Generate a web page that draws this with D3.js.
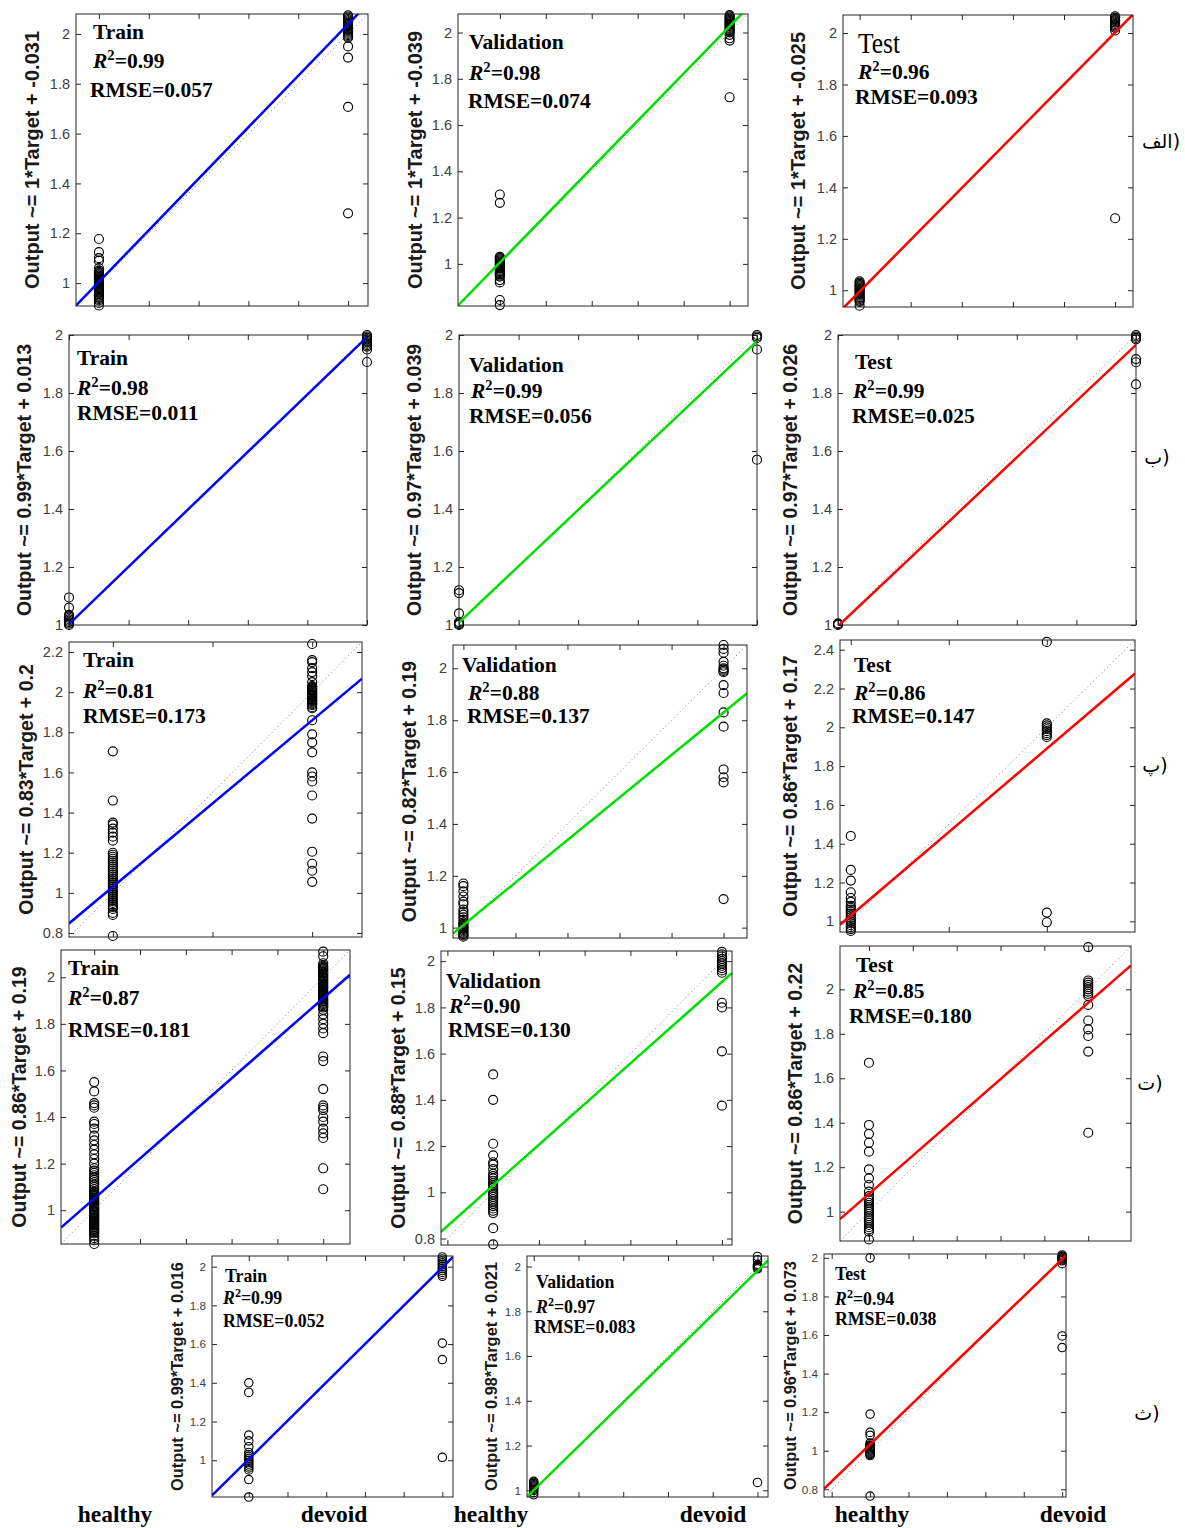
<!DOCTYPE html>
<html><head><meta charset="utf-8">
<script src="https://cdn.jsdelivr.net/npm/d3@7/dist/d3.min.js"></script>
<style>body{margin:0;background:#fff}svg{display:block}</style>
</head><body>
<svg id="c" width="1185" height="1528"></svg>
<script>
// ---------------- DATA ----------------
const rowLabels = ["الف)", "ب)", "پ)", "ت)", "ث)"];
const classLabels = ["healthy", "devoid"];
const panelTitles = ["Train","Validation","Test","Train","Validation","Test","Train","Validation","Test","Train","Validation","Test","Train","Validation","Test"];
const r2Values = ["0.99","0.98","0.96","0.98","0.99","0.99","0.81","0.88","0.86","0.87","0.90","0.85","0.99","0.97","0.94"];
const rmseValues = ["0.057","0.074","0.093","0.011","0.056","0.025","0.173","0.137","0.147","0.181","0.130","0.180","0.052","0.083","0.038"];
// coefficients printed in the y-axis labels
const fitSlopes = [1,1,1,0.99,0.97,0.97,0.83,0.82,0.86,0.86,0.88,0.86,0.99,0.98,0.96];
const fitIntercepts = [-0.031,-0.039,-0.025,0.013,0.039,0.026,0.2,0.19,0.17,0.19,0.15,0.22,0.016,0.021,0.073];
// fit lines as drawn in the picture (row 1 lines are drawn slightly steeper than the rounded labels)
const drawnSlopes = [1.034,1.021,1.007,0.99,0.97,0.97,0.83,0.82,0.86,0.86,0.88,0.86,0.99,0.98,0.96];
const drawnIntercepts = [-0.029,-0.015,-0.012,0.013,0.039,0.026,0.2,0.19,0.17,0.19,0.15,0.22,0.016,0.021,0.073];
const axisMin = [0.908,0.818,0.935,1,1,1,0.78,0.96,0.945,0.855,0.772,0.868,0.81,0.97,0.76];
const axisMax = [2.08,2.08,2.07,2,2,2,2.25,2.09,2.45,2.117,2.044,2.195,2.055,2.047,2.02];
const yTickValues = [
  [1,1.2,1.4,1.6,1.8,2],[1,1.2,1.4,1.6,1.8,2],[1,1.2,1.4,1.6,1.8,2],
  [1,1.2,1.4,1.6,1.8,2],[1,1.2,1.4,1.6,1.8,2],[1,1.2,1.4,1.6,1.8,2],
  [0.8,1,1.2,1.4,1.6,1.8,2,2.2],[1,1.2,1.4,1.6,1.8,2],[1,1.2,1.4,1.6,1.8,2,2.2,2.4],
  [1,1.2,1.4,1.6,1.8,2],[0.8,1,1.2,1.4,1.6,1.8,2],[1,1.2,1.4,1.6,1.8,2],
  [1,1.2,1.4,1.6,1.8,2],[1,1.2,1.4,1.6,1.8,2],[0.8,1,1.2,1.4,1.6,1.8,2]
];
const xTickValues = [
  [1,1.2,1.4,1.6,1.8,2],[1,1.2,1.4,1.6,1.8,2],[1,1.2,1.4,1.6,1.8,2],
  [1,1.2,1.4,1.6,1.8,2],[1,1.2,1.4,1.6,1.8,2],[1,1.2,1.4,1.6,1.8,2],
  [1,1.5,2],[1,1.2,1.4,1.6,1.8,2],[1,1.5,2],
  [1,1.2,1.4,1.6,1.8,2],[0.8,1,1.2,1.4,1.6,1.8,2],[1,1.2,1.4,1.6,1.8,2],
  [1,1.2,1.4,1.6,1.8,2],[1,1.2,1.4,1.6,1.8,2],[0.8,1,1.2,1.4,1.6,1.8,2]
];
// network outputs for targets healthy (=1) and devoid (=2)
const healthyOutputs = [
  [0.91,0.92,0.93,0.935,0.94,0.945,0.95,0.955,0.96,0.965,0.97,0.975,0.98,0.985,0.99,0.995,1.0,1.005,1.01,1.015,1.02,1.025,1.03,1.035,1.04,1.045,1.05,1.06,1.09,1.1,1.124,1.177],
  [0.822,0.844,0.92,0.93,0.945,0.95,0.955,0.96,0.965,0.97,0.975,0.98,0.985,0.99,0.995,1.0,1.005,1.01,1.015,1.02,1.025,1.03,1.264,1.3],
  [0.94,0.955,0.96,0.965,0.97,0.975,0.98,0.985,0.99,0.995,1.0,1.005,1.01,1.015,1.02,1.025,1.03,1.035],
  [1.0,1.005,1.01,1.015,1.02,1.025,1.03,1.035,1.06,1.095],
  [1.0,1.003,1.006,1.01,1.04,1.11,1.12],
  [1.0,1.003,1.006],
  [0.785,0.89,0.9,0.92,0.93,0.94,0.95,0.96,0.97,0.98,0.99,1.0,1.01,1.02,1.03,1.04,1.05,1.06,1.07,1.08,1.09,1.1,1.11,1.12,1.13,1.14,1.15,1.16,1.17,1.18,1.19,1.2,1.26,1.28,1.3,1.32,1.34,1.35,1.46,1.705],
  [0.965,0.97,0.975,0.98,0.985,0.99,0.995,1.0,1.005,1.01,1.015,1.02,1.03,1.04,1.05,1.06,1.07,1.09,1.1,1.12,1.14,1.16,1.17],
  [0.95,0.96,0.97,0.98,0.99,1.0,1.01,1.02,1.03,1.04,1.05,1.06,1.07,1.08,1.1,1.12,1.15,1.21,1.265,1.44],
  [0.855,0.87,0.88,0.89,0.9,0.905,0.91,0.915,0.92,0.925,0.93,0.935,0.94,0.945,0.95,0.955,0.96,0.965,0.97,0.975,0.98,0.985,0.99,0.995,1.0,1.005,1.01,1.015,1.02,1.025,1.03,1.035,1.04,1.045,1.05,1.055,1.06,1.065,1.07,1.075,1.08,1.09,1.1,1.11,1.12,1.13,1.14,1.15,1.16,1.17,1.18,1.2,1.22,1.24,1.26,1.28,1.3,1.32,1.35,1.37,1.38,1.44,1.45,1.46,1.51,1.55],
  [0.775,0.845,0.91,0.92,0.93,0.94,0.95,0.96,0.97,0.98,0.99,1.0,1.01,1.02,1.03,1.04,1.05,1.06,1.07,1.08,1.1,1.12,1.13,1.16,1.21,1.4,1.51],
  [0.875,0.91,0.92,0.93,0.94,0.95,0.96,0.97,0.98,0.99,1.0,1.01,1.02,1.03,1.04,1.05,1.06,1.07,1.09,1.12,1.15,1.19,1.27,1.31,1.35,1.39,1.67],
  [0.81,0.9,0.95,0.96,0.97,0.98,0.99,1.0,1.01,1.02,1.03,1.04,1.07,1.1,1.13,1.35,1.4],
  [0.98,0.99,1.0,1.005,1.01,1.015,1.02,1.025,1.03,1.035,1.04],
  [0.765,0.975,0.98,0.985,0.99,0.995,1.0,1.005,1.01,1.015,1.02,1.025,1.03,1.04,1.08,1.095,1.19,2.0]
];
const devoidOutputs = [
  [1.28,1.707,1.905,1.95,1.985,1.99,1.995,2.0,2.005,2.01,2.015,2.02,2.025,2.03,2.035,2.04,2.045,2.05,2.055,2.06,2.065,2.07,2.075],
  [1.72,1.965,1.975,1.99,2.0,2.005,2.01,2.015,2.02,2.025,2.03,2.035,2.04,2.045,2.05,2.055,2.06,2.065,2.07,2.075],
  [1.28,2.01,2.02,2.025,2.03,2.035,2.04,2.045,2.05,2.055,2.06,2.065],
  [1.907,1.95,1.96,1.965,1.97,1.975,1.98,1.985,1.99,1.995,2.0],
  [1.57,1.95,1.99,1.995,2.0],
  [1.83,1.906,1.917,1.985,1.99,1.995,2.0],
  [1.055,1.11,1.145,1.205,1.37,1.485,1.555,1.58,1.6,1.7,1.75,1.79,1.86,1.92,1.925,1.935,1.94,1.945,1.95,1.955,1.96,1.965,1.97,1.975,1.98,1.985,1.99,1.995,2.0,2.005,2.01,2.015,2.02,2.025,2.03,2.05,2.08,2.1,2.12,2.15,2.16,2.24],
  [1.11,1.56,1.58,1.61,1.775,1.83,1.905,1.935,1.985,1.99,1.995,2.0,2.01,2.025,2.06,2.075,2.09],
  [0.995,1.045,1.95,1.96,1.97,1.98,1.99,2.0,2.01,2.02,2.44],
  [1.09,1.18,1.31,1.33,1.35,1.38,1.4,1.43,1.44,1.45,1.52,1.64,1.66,1.76,1.78,1.8,1.82,1.84,1.86,1.87,1.875,1.88,1.885,1.89,1.895,1.9,1.905,1.91,1.915,1.92,1.925,1.93,1.935,1.94,1.945,1.95,1.955,1.96,1.965,1.97,1.975,1.98,1.985,1.99,1.995,2.0,2.005,2.01,2.015,2.02,2.025,2.03,2.035,2.04,2.045,2.05,2.06,2.09,2.11],
  [1.375,1.61,1.8,1.82,1.95,1.96,1.97,1.98,1.99,2.0,2.01,2.02,2.03,2.04],
  [1.355,1.72,1.79,1.82,1.86,1.93,1.97,1.98,1.99,2.0,2.01,2.02,2.03,2.04,2.19],
  [1.015,1.52,1.605,1.95,1.96,1.97,1.98,1.99,2.0,2.01,2.02,2.03,2.04,2.05],
  [1.035,1.99,1.995,2.0,2.005,2.01,2.03,2.045],
  [1.535,1.595,1.97,1.985,1.99,1.995,2.0,2.005,2.01,2.015]
];

// ---------------- LAYOUT ----------------
const panelBoxes = [
  [76,14,368,306],[458,14,748,306],[843,15,1133,307],
  [69,335,367,625],[459,335,757,625],[838,335,1136,625],
  [69,642,362,937],[453,645,747,938],[840,640,1135,932],
  [61,950,350,1244],[441,951,732,1245],[840,946,1131,1241],
  [212,1256,453,1497],[527,1256,768,1497],[824,1254,1066,1497]
];
const yLabelX = [32,415,798,24,414,790,26,409,790,19,398,795,177,491,790];
// [titleDx,titleDy,r2Dx,r2Dy,rmseDx,rmseDy]
const annoPos = [
  [17,25,17,54,14,83],[11,35,11,66,10,94],[15,38,15,64,12,89],
  [8,30,8,60,8,85],[10,37,12,63,10,88],[17,34,15,63,14,88],
  [14,25,14,56,14,81],[9,27,15,55,14,78],[14,32,14,60,12,83],
  [7,25,7,55,7,87],[5,37,8,62,7,86],[16,26,13,52,9,77],
  [13,26,11,48,11,71],[9,32,9,57,7,77],[11,26,11,51,11,71]
];
const classLabelPos = [[115,334],[491,713],[872,1073]];
const rowLabelPos = [[1161,141],[1157,457],[1155,765],[1150,1083],[1147,1413]];
const fitColors = ["#0000ff","#00e000","#ff0000"];

const svg = d3.select("#c");
const defs = svg.append("defs");
const SANS = "'Liberation Sans', Arial, Helvetica, sans-serif";
const SERIF = "'Liberation Serif', 'Times New Roman', serif";

panelBoxes.forEach((box, i) => {
  const row = Math.floor(i / 3), col = i % 3;
  const small = row === 4;
  const [L, T, R, B] = box;
  const x = d3.scaleLinear().domain([axisMin[i], axisMax[i]]).range([L, R]);
  const y = d3.scaleLinear().domain([axisMin[i], axisMax[i]]).range([B, T]);
  const g = svg.append("g");
  const cid = "clip" + i;
  defs.append("clipPath").attr("id", cid).append("rect")
    .attr("x", L).attr("y", T).attr("width", R - L).attr("height", B - T);

  const tickFs = small ? 11.7 : 14.5;
  const styleAxis = (sel) => {
    sel.select(".domain").remove();
    sel.selectAll("line").attr("stroke", "#262626");
    sel.selectAll("text").attr("font-family", SANS).attr("font-size", tickFs).attr("fill", "#404040");
  };
  g.append("g").attr("transform", `translate(${L},0)`)
    .call(d3.axisLeft(y).tickValues(yTickValues[i]).tickSize(-5).tickPadding(6).tickFormat(d => String(d)))
    .call(styleAxis);
  g.append("g").attr("transform", `translate(${R},0)`)
    .call(d3.axisRight(y).tickValues(yTickValues[i]).tickSize(-5).tickFormat(""))
    .call(styleAxis);
  g.append("g").attr("transform", `translate(0,${B})`)
    .call(d3.axisBottom(x).tickValues(xTickValues[i]).tickSize(-5).tickFormat(""))
    .call(styleAxis);
  g.append("g").attr("transform", `translate(0,${T})`)
    .call(d3.axisTop(x).tickValues(xTickValues[i]).tickSize(-5).tickFormat(""))
    .call(styleAxis);

  // data points
  const pts = healthyOutputs[i].map(v => [1, v]).concat(devoidOutputs[i].map(v => [2, v]));
  g.append("g").selectAll("circle").data(pts).join("circle")
    .attr("cx", d => x(d[0])).attr("cy", d => y(d[1]))
    .attr("r", small ? 4.2 : 4.5)
    .attr("fill", "none").attr("stroke", "#000").attr("stroke-width", 1.15);

  // identity (Y = T) dotted line
  const dom = [axisMin[i], axisMax[i]];
  g.append("path").attr("clip-path", `url(#${cid})`)
    .attr("d", d3.line().x(d => x(d)).y(d => y(d))(dom))
    .attr("stroke", "#777").attr("stroke-width", 1).attr("stroke-dasharray", "1,3").attr("fill", "none");
  // fit line
  g.append("path").attr("clip-path", `url(#${cid})`)
    .attr("d", d3.line().x(d => x(d)).y(d => y(drawnSlopes[i] * d + drawnIntercepts[i]))(dom))
    .attr("stroke", fitColors[col]).attr("stroke-width", 2.5).attr("fill", "none");

  // frame
  g.append("rect").attr("x", L).attr("y", T).attr("width", R - L).attr("height", B - T)
    .attr("fill", "none").attr("stroke", "#262626").attr("stroke-width", 1);

  // y label
  const ylFs = small ? 16.4 : (row === 0 ? 20 : 19.5);
  const eq = `Output ~= ${fitSlopes[i]}*Target + ${fitIntercepts[i]}`;
  const ymid = (T + B) / 2;
  const bx = yLabelX[i] + ylFs * 0.36;
  g.append("text").attr("transform", `translate(${bx},${ymid}) rotate(-90)`)
    .attr("text-anchor", "middle").attr("font-family", SANS).attr("font-weight", "bold")
    .attr("font-size", ylFs).attr("fill", "#1a1a1a").text(eq);

  // annotations
  const aFs = small ? 17.8 : 21.5;
  const a = annoPos[i];
  const title = g.append("text").attr("x", L + a[0]).attr("y", T + a[1])
    .attr("font-family", SERIF).attr("fill", "#000").text(panelTitles[i]);
  if (i === 2) {
    title.attr("font-size", 30).attr("font-weight", "normal")
      .attr("textLength", 42).attr("lengthAdjust", "spacingAndGlyphs");
  } else {
    title.attr("font-size", aFs).attr("font-weight", "bold");
  }
  const r2 = g.append("text").attr("x", L + a[2]).attr("y", T + a[3])
    .attr("font-family", SERIF).attr("font-weight", "bold").attr("font-size", aFs).attr("fill", "#000");
  r2.append("tspan").attr("font-style", "italic").text("R");
  r2.append("tspan").attr("font-size", aFs * 0.68).attr("dy", -aFs * 0.38).text("2");
  r2.append("tspan").attr("dy", aFs * 0.38).text("=" + r2Values[i]);
  g.append("text").attr("x", L + a[4]).attr("y", T + a[5])
    .attr("font-family", SERIF).attr("font-weight", "bold").attr("font-size", aFs).attr("fill", "#000")
    .text("RMSE=" + rmseValues[i]);
});

// class labels at bottom
classLabelPos.forEach(pos => {
  pos.forEach((px, k) => {
    svg.append("text").attr("x", px).attr("y", 1522).attr("text-anchor", "middle")
      .attr("font-family", SERIF).attr("font-weight", "bold").attr("font-size", 23.5)
      .attr("fill", "#000").text(classLabels[k]);
  });
});

// row labels
rowLabels.forEach((t, k) => {
  svg.append("text").attr("x", rowLabelPos[k][0]).attr("y", rowLabelPos[k][1])
    .attr("text-anchor", "middle").attr("dominant-baseline", "central")
    .attr("font-family", "'DejaVu Sans', sans-serif").attr("font-size", 19)
    .attr("fill", "#000").text(t);
});
</script>
</body></html>
